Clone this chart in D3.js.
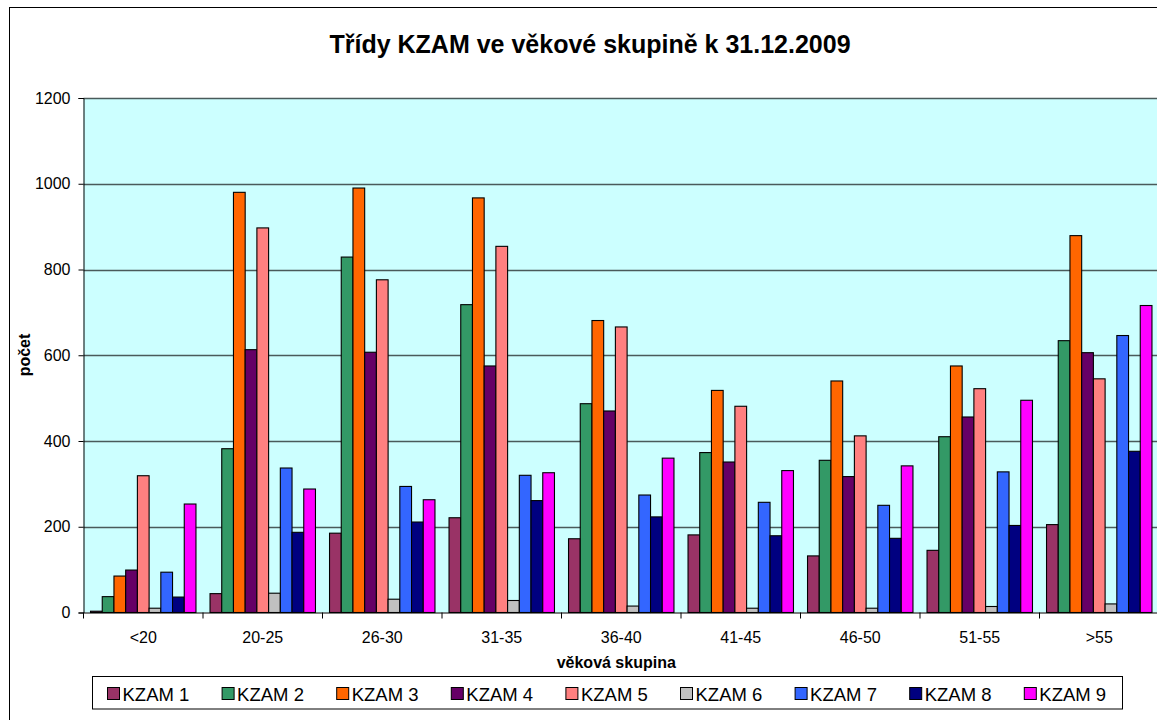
<!DOCTYPE html>
<html>
<head>
<meta charset="utf-8">
<script src="https://cdn.jsdelivr.net/npm/d3@7"></script>
<style>
  html, body { margin: 0; padding: 0; background: #fff; overflow: hidden; }
  svg { display: block; font-family: "Liberation Sans", Arial, sans-serif; }
</style>
</head>
<body>
<svg id="chart" width="1157" height="720"></svg>
<script>
// ---- data ----
const categories = ["<20", "20-25", "26-30", "31-35", "36-40", "41-45", "46-50", "51-55", ">55"];
const seriesNames = ["KZAM 1", "KZAM 2", "KZAM 3", "KZAM 4", "KZAM 5", "KZAM 6", "KZAM 7", "KZAM 8", "KZAM 9"];
const kzam1 = [3, 44, 185, 221, 172, 181, 132, 145, 205];
const kzam2 = [37, 382, 829, 718, 487, 373, 355, 410, 634];
const kzam3 = [85, 980, 990, 967, 681, 518, 540, 575, 879];
const kzam4 = [99, 613, 607, 575, 470, 351, 317, 456, 606];
const kzam5 = [319, 897, 776, 854, 666, 481, 412, 522, 545];
const kzam6 = [10, 45, 31, 28, 15, 10, 10, 14, 20];
const kzam7 = [94, 337, 294, 320, 274, 257, 250, 328, 646];
const kzam8 = [36, 187, 211, 261, 223, 179, 173, 203, 376];
const kzam9 = [253, 288, 263, 326, 360, 331, 342, 495, 716];
const yTicks = [0, 200, 400, 600, 800, 1000, 1200];
const colors = ["#993366", "#339966", "#FF6600", "#660066", "#FF8080", "#C0C0C0", "#3366FF", "#000080", "#FF00FF"];
const titleText = "Třídy KZAM ve věkové skupině k 31.12.2009";
const xTitle = "věková skupina";
const yTitle = "počet";

const seriesValues = [kzam1, kzam2, kzam3, kzam4, kzam5, kzam6, kzam7, kzam8, kzam9];
const FONT = "'Liberation Sans', Arial, sans-serif";

// ---- layout ----
const svg = d3.select("#chart");
const plotLeft = 83.5, plotTop = 98, plotBottom = 612.5;
const catW = 119.5;
const plotRight = plotLeft + catW * categories.length;

// outer border (extends beyond the picture on right/bottom)
svg.append("rect").attr("x", 9.5).attr("y", 7.5).attr("width", 1170).attr("height", 730)
  .attr("fill", "#fff").attr("stroke", "#000").attr("stroke-width", 1);

const x0 = d3.scaleBand().domain(categories).range([plotLeft, plotRight]).paddingInner(0).paddingOuter(0);
const barW = catW / (9 + 1.2);
const x1 = d3.scaleBand().domain(seriesNames)
  .range([(catW - 9 * barW) / 2, (catW + 9 * barW) / 2]).padding(0);

const y = d3.scaleLinear().domain([0, 1200]).range([plotBottom, plotTop]);

// plot background
svg.append("rect").attr("x", plotLeft).attr("y", plotTop)
  .attr("width", plotRight - plotLeft).attr("height", plotBottom - plotTop)
  .attr("fill", "#CCFFFF");

// gridlines
svg.append("g").selectAll("line").data(yTicks.filter(d => d > 0)).join("line")
  .attr("x1", plotLeft).attr("x2", plotRight)
  .attr("y1", d => Math.round(y(d)) + 0.5).attr("y2", d => Math.round(y(d)) + 0.5)
  .attr("stroke", "#4a5a5a").attr("stroke-width", 1.3);

// bars
const groups = svg.append("g").selectAll("g").data(categories).join("g")
  .attr("transform", d => `translate(${x0(d)},0)`);
groups.selectAll("rect").data((c, ci) => seriesNames.map((s, si) => ({ s, si, v: seriesValues[si][ci] })))
  .join("rect")
  .attr("x", d => x1(d.s))
  .attr("width", x1.bandwidth())
  .attr("y", d => y(d.v))
  .attr("height", d => y(0) - y(d.v))
  .attr("fill", d => colors[d.si])
  .attr("stroke", "#000").attr("stroke-width", 1.1);

// axes
const yAxis = d3.axisLeft(y).tickValues(yTicks).tickFormat(d3.format("d")).tickSize(5).tickPadding(8);
const gy = svg.append("g").attr("transform", `translate(${plotLeft},0)`).call(yAxis);
gy.attr("font-family", FONT);
gy.select(".domain").attr("stroke", "#000");
gy.selectAll(".tick line").attr("stroke", "#000");
gy.selectAll("text").attr("font-size", 16).attr("fill", "#000");

const xAxis = d3.axisBottom(x0).tickSize(0).tickPadding(19);
const gx = svg.append("g").attr("transform", `translate(0,${plotBottom})`).call(xAxis);
gx.attr("font-family", FONT);
gx.select(".domain").attr("stroke", "#000");
gx.selectAll("text").attr("font-size", 16).attr("fill", "#000");
// category boundary tick marks
svg.append("g").selectAll("line").data(d3.range(categories.length + 1)).join("line")
  .attr("x1", i => plotLeft + i * catW).attr("x2", i => plotLeft + i * catW)
  .attr("y1", plotBottom).attr("y2", plotBottom + 6)
  .attr("stroke", "#000");

// title
svg.append("text").attr("x", 590).attr("y", 53).attr("text-anchor", "middle")
  .attr("font-size", 25).attr("font-weight", "bold").text(titleText);

// axis titles
svg.append("text").attr("x", (plotLeft + plotRight) / 2 - 5).attr("y", 668).attr("text-anchor", "middle")
  .attr("font-size", 16).attr("font-weight", "bold").text(xTitle);
svg.append("text").attr("transform", "translate(30,355) rotate(-90)").attr("text-anchor", "middle")
  .attr("font-size", 16).attr("font-weight", "bold").text(yTitle);

// legend
const legend = svg.append("g");
legend.append("rect").attr("x", 92.5).attr("y", 676.5).attr("width", 1030).attr("height", 32.5)
  .attr("fill", "#fff").attr("stroke", "#000");
const li = legend.selectAll("g").data(seriesNames).join("g")
  .attr("transform", (d, i) => `translate(${107.5 + i * 114.6},0)`);
li.append("rect").attr("x", 0).attr("y", 687.5).attr("width", 12).attr("height", 12)
  .attr("fill", (d, i) => colors[i]).attr("stroke", "#000");
li.append("text").attr("x", 15).attr("y", 700.5).attr("font-size", 18.5).text(d => d);
</script>
</body>
</html>
